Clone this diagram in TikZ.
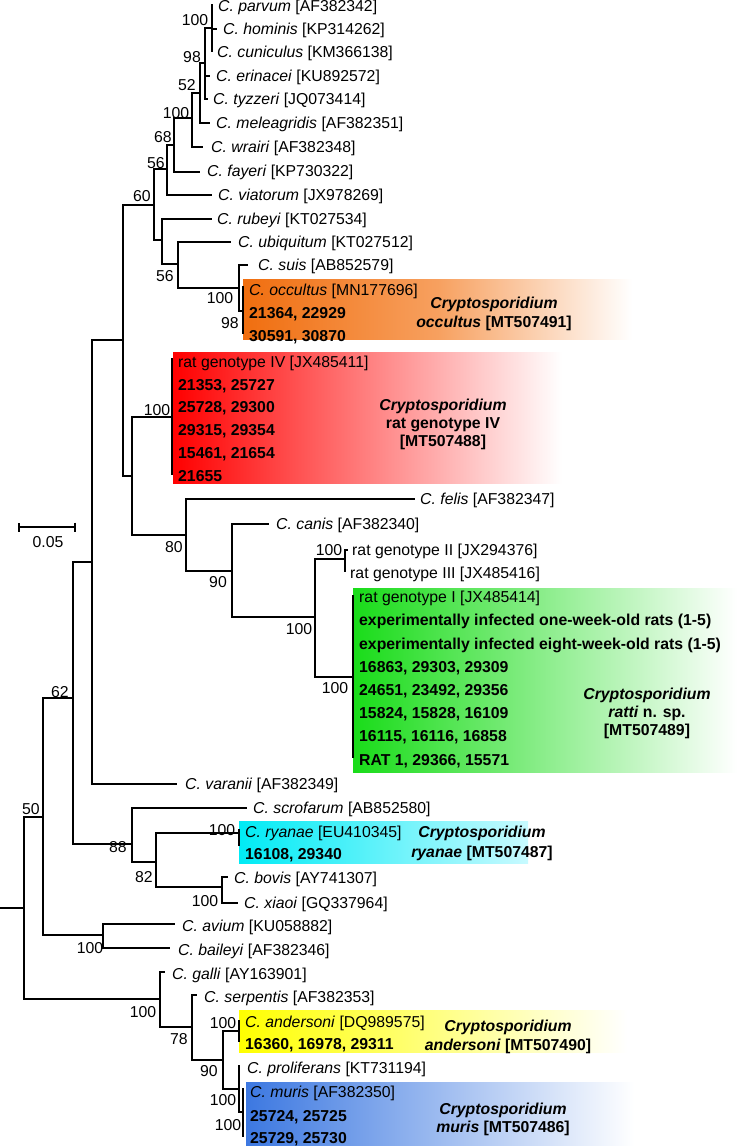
\documentclass[tikz,border=0pt]{standalone}
\usepackage{fontspec}
\setmainfont{Liberation Sans}
\usetikzlibrary{arrows.meta}
\definecolor{corange}{RGB}{240,110,15}
\definecolor{corangem}{RGB}{247,160,95}
\definecolor{cred}{RGB}{255,0,0}
\definecolor{cgreen}{RGB}{25,220,25}
\definecolor{ccyan}{RGB}{0,235,245}
\definecolor{ccyanr}{RGB}{200,250,255}
\definecolor{cyellow}{RGB}{255,255,0}
\definecolor{cblue}{RGB}{60,120,225}
\newcommand{\fs}{\fontsize{15.8}{19}\selectfont}
\begin{document}
\begin{tikzpicture}[x=1pt,y=-1pt,
  br/.style={line width=1.7pt},
  lf/.style={anchor=west,inner sep=0pt,font=\fs,text height=11.3pt,text depth=0pt},
  lfb/.style={lf,font=\fs\bfseries},
  bs/.style={inner sep=0pt,font=\fs,text height=11.3pt,text depth=0pt},
  lab/.style={inner sep=0pt,font=\fs\bfseries,text height=11.3pt,text depth=0pt}]
\useasboundingbox (0,0) rectangle (742,1146);
% coloured boxes
\shade[left color=corange,right color=white,middle color=corangem] (243,279) rectangle (632,339);
\shade[left color=cred,right color=white] (173,352) rectangle (562,483);
\shade[left color=cgreen,right color=white] (353,588) rectangle (737,772);
\shade[left color=ccyan,right color=ccyanr] (239,821) rectangle (528,863);
\shade[left color=cyellow,right color=white] (239,1010) rectangle (627,1052);
\shade[left color=cblue,right color=white] (246,1082) rectangle (634,1146);
% tree coordinates
\coordinate (root) at (0,908);
\coordinate (Z) at (24,908);
\coordinate (X) at (43,817);
\coordinate (AA) at (160,999);
\coordinate (Q) at (73,698);
\coordinate (Y) at (103,935);
\coordinate (P) at (92,562);
\coordinate (W) at (132,844);
\coordinate (H) at (123,340);
\coordinate (tvar) at (177,784);
\coordinate (G) at (154,205);
\coordinate (N) at (132,476);
\coordinate (F) at (167,169);
\coordinate (I) at (162,240);
\coordinate (E) at (174,145);
\coordinate (tvia) at (212,195);
\coordinate (D) at (192,118);
\coordinate (tfay) at (200,172);
\coordinate (C) at (200,93);
\coordinate (twra) at (203,147);
\coordinate (B) at (205,63);
\coordinate (tmel) at (210,123);
\coordinate (A) at (212,28);
\coordinate (teri) at (210,76);
\coordinate (ttyz) at (208,99);
\coordinate (tpar) at (212,4);
\coordinate (thom) at (217,29);
\coordinate (tcun) at (212,52);
\coordinate (trub) at (212,219);
\coordinate (J) at (178,264);
\coordinate (tubi) at (231,242);
\coordinate (K) at (239,288);
\coordinate (tsui) at (248,265);
\coordinate (L) at (243,311);
\coordinate (tocc) at (243,286);
\coordinate (tocc2) at (243,334);
\coordinate (R4) at (172,417);
\coordinate (tr4a) at (172,358);
\coordinate (tr4b) at (172,475);
\coordinate (O) at (186,535);
\coordinate (tfel) at (415,499);
\coordinate (R) at (232,571);
\coordinate (tcan) at (269,524);
\coordinate (S) at (315,617);
\coordinate (T) at (345,559);
\coordinate (trII) at (348,550);
\coordinate (trIII) at (345,572);
\coordinate (U) at (353,677);
\coordinate (tua) at (353,595);
\coordinate (tub) at (353,758);
\coordinate (tscr) at (247,808);
\coordinate (AB) at (156,862);
\coordinate (RY) at (239,833);
\coordinate (trya) at (239,829);
\coordinate (trya2) at (239,846);
\coordinate (BX) at (222,887);
\coordinate (tbov) at (228,877);
\coordinate (txia) at (238,903);
\coordinate (tavi) at (175,924);
\coordinate (tbai) at (170,948);
\coordinate (tgal) at (165,972);
\coordinate (AC) at (192,1027);
\coordinate (tser) at (197,995);
\coordinate (AD) at (223,1060);
\coordinate (AN) at (239,1031);
\coordinate (tand) at (239,1020);
\coordinate (tand2) at (239,1042);
\coordinate (AE) at (239,1089);
\coordinate (tpro) at (239,1065);
\coordinate (AF) at (243,1112);
\coordinate (tmur) at (243,1088);
\coordinate (tmur2) at (243,1137);
% branches
\draw[br] (root) -- (Z);
\foreach \p/\c in {Z/X,Z/AA,X/Q,X/Y,Q/P,Q/W,P/H,P/tvar,H/G,H/N,G/F,G/I,F/E,F/tvia,E/D,E/tfay,D/C,D/twra,C/B,C/tmel,B/A,B/teri,B/ttyz,A/tpar,A/thom,A/tcun,I/trub,I/J,J/tubi,J/K,K/tsui,K/L,L/tocc,L/tocc2,N/R4,N/O,R4/tr4a,R4/tr4b,O/tfel,O/R,R/tcan,R/S,S/T,S/U,T/trII,T/trIII,U/tua,U/tub,W/tscr,W/AB,AB/RY,AB/BX,RY/trya,RY/trya2,BX/tbov,BX/txia,Y/tavi,Y/tbai,AA/tgal,AA/AC,AC/tser,AC/AD,AD/AN,AD/AE,AN/tand,AN/tand2,AE/tpro,AE/AF,AF/tmur,AF/tmur2}
  \draw[br] (\p) |- (\c);
% bootstrap values
\node[bs] (b1) at (195,20) {100};
\node[bs] (b2) at (192,57) {98};
\node[bs] (b3) at (187,85) {52};
\node[bs] (b4) at (176,113) {100};
\node[bs] (b5) at (163,137) {68};
\node[bs] (b6) at (156,163) {56};
\node[bs] (b7) at (142,196) {60};
\node[bs] (b8) at (165,276) {56};
\node[bs] (b9) at (220,298) {100};
\node[bs] (b10) at (230,323) {98};
\node[bs] (b11) at (157,410) {100};
\node[bs] (b12) at (174,547) {80};
\node[bs] (b13) at (218,582) {90};
\node[bs] (b14) at (299,629) {100};
\node[bs] (b15) at (329,550) {100};
\node[bs] (b16) at (335,688) {100};
\node[bs] (b17) at (60,692) {62};
\node[bs] (b18) at (31,809) {50};
\node[bs] (b19) at (118,847) {88};
\node[bs] (b20) at (144,877) {82};
\node[bs] (b21) at (222,830) {100};
\node[bs] (b22) at (205,901) {100};
\node[bs] (b23) at (90,948) {100};
\node[bs] (b24) at (143,1012) {100};
\node[bs] (b25) at (179,1039) {78};
\node[bs] (b26) at (209,1071) {90};
\node[bs] (b27) at (223,1023) {100};
\node[bs] (b28) at (223,1100) {100};
\node[bs] (b29) at (228,1125) {100};
% leaves
\node[lf] (l1) at (218,6) {\textit{C. parvum} [AF382342]};
\node[lf] (l2) at (223,29) {\textit{C. hominis} [KP314262]};
\node[lf] (l3) at (217,52) {\textit{C. cuniculus} [KM366138]};
\node[lf] (l4) at (216,76) {\textit{C. erinacei} [KU892572]};
\node[lf] (l5) at (213,99) {\textit{C. tyzzeri} [JQ073414]};
\node[lf] (l6) at (216,123) {\textit{C. meleagridis} [AF382351]};
\node[lf] (l7) at (211,147) {\textit{C. wrairi} [AF382348]};
\node[lf] (l8) at (207,171) {\textit{C. fayeri} [KP730322]};
\node[lf] (l9) at (218,195) {\textit{C. viatorum} [JX978269]};
\node[lf] (l10) at (217,219) {\textit{C. rubeyi} [KT027534]};
\node[lf] (l11) at (238,242) {\textit{C. ubiquitum} [KT027512]};
\node[lf] (l12) at (258,265) {\textit{C. suis} [AB852579]};
\node[lf] (l13) at (249,290) {\textit{C. occultus} [MN177696]};
\node[lfb] (l14) at (249,313) {21364, 22929};
\node[lfb] (l15) at (249,336) {30591, 30870};
\node[lf] (l16) at (178,362) {rat genotype IV [JX485411]};
\node[lfb] (l17) at (178,385) {21353, 25727};
\node[lfb] (l18) at (178,407) {25728, 29300};
\node[lfb] (l19) at (178,430) {29315, 29354};
\node[lfb] (l20) at (178,453) {15461, 21654};
\node[lfb] (l21) at (178,476) {21655};
\node[lf] (l22) at (420,499) {\textit{C. felis} [AF382347]};
\node[lf] (l23) at (276,524) {\textit{C. canis} [AF382340]};
\node[lf] (l24) at (352,550) {rat genotype II [JX294376]};
\node[lf] (l25) at (350,573) {rat genotype III [JX485416]};
\node[lf] (l26) at (359,597) {rat genotype I [JX485414]};
\node[lfb] (l27) at (359,620) {experimentally infected one-week-old rats (1-5)};
\node[lfb] (l28) at (359,644) {experimentally infected eight-week-old rats (1-5)};
\node[lfb] (l29) at (359,667) {16863, 29303, 29309};
\node[lfb] (l30) at (359,690) {24651, 23492, 29356};
\node[lfb] (l31) at (359,713) {15824, 15828, 16109};
\node[lfb] (l32) at (359,736) {16115, 16116, 16858};
\node[lfb] (l33) at (359,760) {RAT 1, 29366, 15571};
\node[lf] (l34) at (185,784) {\textit{C. varanii} [AF382349]};
\node[lf] (l35) at (253,808) {\textit{C. scrofarum} [AB852580]};
\node[lf] (l36) at (245,832) {\textit{C. ryanae} [EU410345]};
\node[lfb] (l37) at (245,854) {16108, 29340};
\node[lf] (l38) at (234,878) {\textit{C. bovis} [AY741307]};
\node[lf] (l39) at (244,903) {\textit{C. xiaoi} [GQ337964]};
\node[lf] (l40) at (182,926) {\textit{C. avium} [KU058882]};
\node[lf] (l41) at (178,950) {\textit{C. baileyi} [AF382346]};
\node[lf] (l42) at (172,974) {\textit{C. galli} [AY163901]};
\node[lf] (l43) at (204,997) {\textit{C. serpentis} [AF382353]};
\node[lf] (l44) at (245,1022) {\textit{C. andersoni} [DQ989575]};
\node[lfb] (l45) at (245,1044) {16360, 16978, 29311};
\node[lf] (l46) at (247,1068) {\textit{C. proliferans} [KT731194]};
\node[lf] (l47) at (250,1092) {\textit{C. muris} [AF382350]};
\node[lfb] (l48) at (250,1116) {25724, 25725};
\node[lfb] (l49) at (250,1138) {25729, 25730};
% species labels
\node[lab] (oc1) at (494,303) {\textit{Cryptosporidium}};
\node[lab] (oc2) at (494,322) {\textit{occultus} [MT507491]};
\node[lab] (rd1) at (443,405) {\textit{Cryptosporidium}};
\node[lab] (rd2) at (443,423) {rat genotype IV};
\node[lab] (rd3) at (443,441) {[MT507488]};
\node[lab] (gr1) at (647,694) {\textit{Cryptosporidium}};
\node[lab] (gr2) at (647,712) {\textit{ratti} n. sp.};
\node[lab] (gr3) at (647,730) {[MT507489]};
\node[lab] (cy1) at (482,832) {\textit{Cryptosporidium}};
\node[lab] (cy2) at (482,852) {\textit{ryanae} [MT507487]};
\node[lab] (ye1) at (508,1026) {\textit{Cryptosporidium}};
\node[lab] (ye2) at (508,1045) {\textit{andersoni} [MT507490]};
\node[lab] (bl1) at (503,1109) {\textit{Cryptosporidium}};
\node[lab] (bl2) at (503,1127) {\textit{muris} [MT507486]};
% scale bar
\coordinate (sb1) at (18,527);
\coordinate (sb2) at (76,527);
\draw[br,{Bar[width=9pt]}-{Bar[width=9pt]}] (sb1) -- (sb2);
\node[bs] (sbl) at (48,542) {0.05};
\end{tikzpicture}
\end{document}
